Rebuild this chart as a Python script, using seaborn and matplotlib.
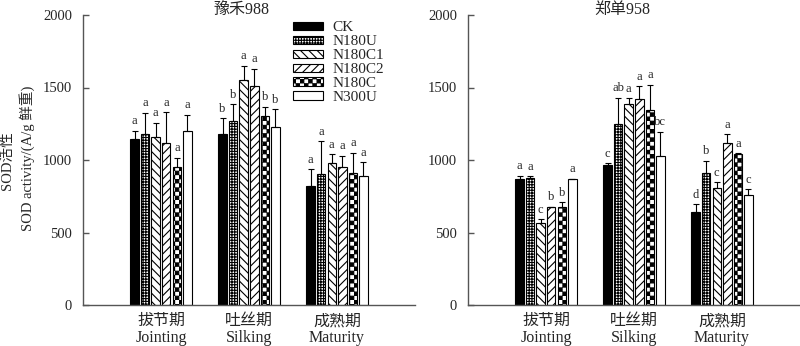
import warnings
warnings.filterwarnings("ignore")
import numpy as np
import pandas as pd
import matplotlib
matplotlib.use("Agg")
import matplotlib.pyplot as plt
import matplotlib.hatch as mhatch
from matplotlib.path import Path
import seaborn as sns

# ---------------- data ----------------
stages = ["拔节期", "吐丝期", "成熟期"]
stages_en = ["Jointing", "Silking", "Maturity"]
treatments = ["CK", "N180U", "N180C1", "N180C2", "N180C", "N300U"]

# 豫禾988 (values per treatment: Jointing, Silking, Maturity)
yuhe_ck = [1143, 1179, 823]
yuhe_n180u = [1179, 1271, 903]
yuhe_n180c1 = [1156, 1552, 977]
yuhe_n180c2 = [1115, 1510, 950]
yuhe_n180c = [954, 1303, 913]
yuhe_n300u = [1202, 1228, 890]
yuhe_err_ck = [60, 108, 113]
yuhe_err_n180u = [147, 113, 228]
yuhe_err_n180c1 = [100, 98, 64]
yuhe_err_n180c2 = [214, 120, 78]
yuhe_err_n180c = [62, 63, 137]
yuhe_err_n300u = [110, 122, 96]
yuhe_sig_ck = ["a", "b", "a"]
yuhe_sig_n180u = ["a", "b", "a"]
yuhe_sig_n180c1 = ["a", "a", "a"]
yuhe_sig_n180c2 = ["a", "a", "a"]
yuhe_sig_n180c = ["a", "b", "a"]
yuhe_sig_n300u = ["a", "b", "a"]

# 郑单958
zd_ck = [867, 966, 639]
zd_n180u = [874, 1248, 910]
zd_n180c1 = [563, 1384, 805]
zd_n180c2 = [674, 1418, 1119]
zd_n180c = [678, 1345, 1043]
zd_n300u = [867, 1030, 761]
zd_err_ck = [25, 11, 57]
zd_err_n180u = [13, 182, 85]
zd_err_n180c1 = [30, 41, 41]
zd_err_n180c2 = [5, 92, 58]
zd_err_n180c = [30, 175, 5]
zd_err_n300u = [4, 166, 37]
zd_sig_ck = ["a", "c", "d"]
zd_sig_n180u = ["a", "ab", "b"]
zd_sig_n180c1 = ["c", "a", "c"]
zd_sig_n180c2 = ["b", "a", "a"]
zd_sig_n180c = ["b", "a", "a"]
zd_sig_n300u = ["a", "bc", "c"]

yticks = [0, 500, 1000, 1500, 2000]


# ---------------- custom checkerboard hatch ----------------
class CheckerHatch(mhatch.HatchPatternBase):
    def __init__(self, hatch, density):
        k = hatch.count("c")
        self.n = k * density if k else 0
        self.num_vertices = 5 * (self.n * self.n // 2) if self.n else 0

    def set_vertices_and_codes(self, vertices, codes):
        n = self.n
        s = 1.0 / n
        m = 0.004
        idx = 0
        for i in range(n):
            for j in range(n):
                if (i + j) % 2 == 0:
                    x0, y0 = i * s + m, j * s + m
                    x1, y1 = (i + 1) * s - m, (j + 1) * s - m
                    vertices[idx:idx + 5] = [(x0, y0), (x1, y0), (x1, y1), (x0, y1), (x0, y0)]
                    codes[idx:idx + 5] = [Path.MOVETO, Path.LINETO, Path.LINETO,
                                          Path.LINETO, Path.CLOSEPOLY]
                    idx += 5


mhatch._hatch_types.append(CheckerHatch)

sns.set_style("ticks")
plt.rcParams["font.family"] = ["Liberation Serif", "Noto Sans CJK SC"]
plt.rcParams["hatch.color"] = "black"
plt.rcParams["hatch.linewidth"] = 0.8

facecolors = ["black", "white", "white", "white", "white", "white"]
hatches = [None, "++++++", "\\\\\\\\", "////", "cccc", None]


def build(vals, errs, sigs):
    rows = []
    for t, v, e, s in zip(treatments, vals, errs, sigs):
        for st, vv, ee, ss in zip(stages, v, e, s):
            rows.append(dict(stage=st, treatment=t, sod=vv, err=ee, sig=ss))
    return pd.DataFrame(rows)


df_yuhe = build([yuhe_ck, yuhe_n180u, yuhe_n180c1, yuhe_n180c2, yuhe_n180c, yuhe_n300u],
                [yuhe_err_ck, yuhe_err_n180u, yuhe_err_n180c1, yuhe_err_n180c2, yuhe_err_n180c, yuhe_err_n300u],
                [yuhe_sig_ck, yuhe_sig_n180u, yuhe_sig_n180c1, yuhe_sig_n180c2, yuhe_sig_n180c, yuhe_sig_n300u])
df_zd = build([zd_ck, zd_n180u, zd_n180c1, zd_n180c2, zd_n180c, zd_n300u],
              [zd_err_ck, zd_err_n180u, zd_err_n180c1, zd_err_n180c2, zd_err_n180c, zd_err_n300u],
              [zd_sig_ck, zd_sig_n180u, zd_sig_n180c1, zd_sig_n180c2, zd_sig_n180c, zd_sig_n300u])

fig = plt.figure(figsize=(8, 3.46), dpi=100)
W, H = 800.0, 346.0
ax1 = fig.add_axes([83 / W, 41 / H, 332 / W, 290 / H])
ax2 = fig.add_axes([468 / W, 41 / H, 332 / W, 290 / H])

axis_col = "#555555"


def draw(ax, df, title, title_x):
    sns.barplot(data=df, x="stage", y="sod", hue="treatment", order=stages,
                hue_order=treatments, palette=facecolors, saturation=1,
                width=0.72, gap=0.2, errorbar=None, legend=False,
                edgecolor="black", linewidth=0.8, ax=ax)
    bar_conts = list(ax.containers)
    for ci, cont in enumerate(bar_conts):
        t = treatments[ci]
        sub = df[df.treatment == t].set_index("stage").loc[stages]
        xs, hs = [], []
        for bar in cont.patches:
            if hatches[ci]:
                bar.set_hatch(hatches[ci])
            xs.append(bar.get_x() + bar.get_width() / 2)
            hs.append(bar.get_height())
        errs = sub["err"].values
        ax.errorbar(xs, hs, yerr=[np.zeros(len(errs)), errs], fmt="none",
                    ecolor="black", elinewidth=0.8, capsize=2, capthick=0.8, zorder=3)
        for x, h, e, s in zip(xs, hs, errs, sub["sig"].values):
            ax.annotate(s, (x, h + e), xytext=(0, 2.5), textcoords="offset points",
                        ha="center", va="bottom", fontsize=9)
    ax.set_ylim(0, 2000)
    ax.set_xlim(-0.886, 2.886)
    ax.set_yticks(yticks)
    ax.set_xlabel("")
    ax.set_ylabel("")
    ax.tick_params(axis="y", direction="in", length=4, width=1, color=axis_col,
                   labelsize=10.5, pad=8)
    ax.tick_params(axis="x", length=0, labelsize=11.5, pad=6)
    for i, en in enumerate(stages_en):
        ax.annotate(en, xy=(ax.get_xticks()[i], 0), xycoords=("data", "axes fraction"),
                    xytext=(0, -24), textcoords="offset points", ha="center",
                    va="center", fontsize=11.5, annotation_clip=False)
    sns.despine(ax=ax)
    for sp in ("left", "bottom"):
        ax.spines[sp].set_color(axis_col)
        ax.spines[sp].set_linewidth(1)
    ax.text(title_x, 1.016, title, transform=ax.transAxes, ha="center",
            va="center", fontsize=11.5)
    return bar_conts


conts1 = draw(ax1, df_yuhe, "豫禾988", 0.476)
draw(ax2, df_zd, "郑单958", 0.464)

ax1.legend(handles=conts1, labels=treatments, loc="upper left",
           bbox_to_anchor=(0.6325, 0.978), frameon=False, fontsize=11,
           handlelength=1.95, handleheight=0.45, handletextpad=0.65,
           labelspacing=0.06, borderpad=0, borderaxespad=0)

fig.text(7 / W, 1 - 161 / H, "SOD活性", rotation=90, ha="center", va="center",
         fontsize=10.5)
fig.text(27 / W, 1 - 158 / H, "SOD activity/(A/g 鲜重)", rotation=90,
         ha="center", va="center", fontsize=10.5)

fig.savefig("out.png", dpi=100)
